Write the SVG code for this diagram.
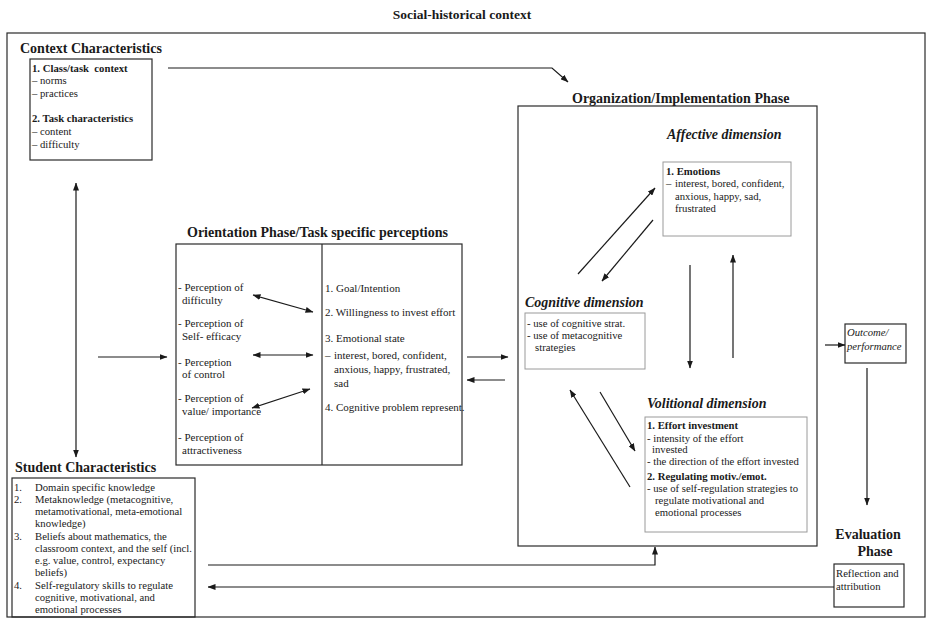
<svg xmlns="http://www.w3.org/2000/svg" width="927" height="618" viewBox="0 0 927 618">
<defs>
<marker id="arr" markerUnits="userSpaceOnUse" markerWidth="8" markerHeight="6" refX="7.5" refY="3" orient="auto-start-reverse">
<path d="M0,0 L8,3 L0,6 z" fill="#1a1a1a"/>
</marker>
</defs>
<style>
text{font-family:"Liberation Serif","Times New Roman",serif;fill:#1a1a1a}
.h{font-size:14px;font-weight:bold}
.hi{font-size:14px;font-weight:bold;font-style:italic}
.t{font-size:10.7px}
.b{font-size:10.7px;font-weight:bold}
.o{font-size:11px}
.box{fill:none;stroke:#2a2a2a;stroke-width:1.2}
.lbox{fill:none;stroke:#9a9a9a;stroke-width:1}
.c{fill:none;stroke:#1a1a1a;stroke-width:1.2}
</style>
<rect width="927" height="618" fill="#ffffff"/>

<g id="social-historical">
<text x="462" y="19" class="h" style="font-size:13.5px" text-anchor="middle">Social-historical context</text>
<rect x="7" y="33" width="918" height="584" class="box"/>
</g>

<g id="context">
<text x="20" y="53" class="h">Context Characteristics</text>
<rect x="30" y="59" width="122" height="101" class="box"/>
<text x="32" y="72" class="b">1. Class/task&#160; context</text>
<text x="32" y="84" class="t">–  norms</text>
<text x="32" y="97" class="t">–  practices</text>
<text x="32" y="122" class="b">2. Task characteristics</text>
<text x="32" y="135" class="t">–  content</text>
<text x="32" y="148" class="t">–  difficulty</text>
</g>

<g id="student">
<text x="15" y="472" class="h">Student Characteristics</text>
<rect x="12" y="478" width="183" height="139" class="box"/>
<text x="14" y="491" class="t">1.</text><text x="35" y="491" class="t">Domain specific knowledge</text>
<text x="14" y="503" class="t">2.</text><text x="35" y="503" class="t">Metaknowledge (metacognitive,</text>
<text x="35" y="515" class="t">metamotivational, meta-emotional</text>
<text x="35" y="527" class="t">knowledge)</text>
<text x="14" y="540" class="t">3.</text><text x="35" y="540" class="t">Beliefs about mathematics, the</text>
<text x="35" y="552" class="t">classroom context, and the self (incl.</text>
<text x="35" y="564" class="t">e.g. value, control, expectancy</text>
<text x="35" y="576" class="t">beliefs)</text>
<text x="14" y="589" class="t">4.</text><text x="35" y="589" class="t">Self-regulatory skills to regulate</text>
<text x="35" y="601" class="t">cognitive, motivational, and</text>
<text x="35" y="613" class="t">emotional processes</text>
</g>

<g id="orientation">
<text x="187" y="237" class="h">Orientation Phase/Task specific perceptions</text>
<rect x="176" y="244" width="286" height="221" class="box"/>
<line x1="322" y1="244" x2="322" y2="465" class="box"/>
<text x="178" y="291" class="o">- Perception of</text>
<text x="182" y="304" class="o">difficulty</text>
<text x="178" y="327" class="o">- Perception of</text>
<text x="182" y="340" class="o">Self- efficacy</text>
<text x="178" y="366" class="o">- Perception</text>
<text x="182" y="378" class="o">of control</text>
<text x="178" y="402" class="o">- Perception of</text>
<text x="182" y="415" class="o">value/ importance</text>
<text x="178" y="441" class="o">- Perception of</text>
<text x="182" y="454" class="o">attractiveness</text>
<text x="325" y="292" class="o">1. Goal/Intention</text>
<text x="325" y="316" class="o">2. Willingness to invest effort</text>
<text x="325" y="342" class="o">3. Emotional state</text>
<text x="325" y="359" class="o">–</text><text x="334" y="359" class="o">interest, bored, confident,</text>
<text x="334" y="373" class="o">anxious, happy, frustrated,</text>
<text x="334" y="387" class="o">sad</text>
<text x="325" y="411" class="o">4. Cognitive problem represent.</text>
</g>

<g id="organization">
<text x="572" y="103" class="h">Organization/Implementation Phase</text>
<rect x="518" y="106" width="299" height="440" class="box"/>
</g>

<g id="affective">
<text x="667" y="139" class="hi">Affective dimension</text>
<rect x="663" y="162" width="128" height="74" class="lbox"/>
<text x="666" y="175" class="b">1. Emotions</text>
<text x="666" y="187" class="t">–</text><text x="675" y="187" class="t">interest, bored, confident,</text>
<text x="675" y="200" class="t">anxious, happy, sad,</text>
<text x="675" y="212" class="t">frustrated</text>
</g>

<g id="cognitive">
<text x="525" y="307" class="hi">Cognitive dimension</text>
<rect x="525" y="313" width="120" height="56" class="lbox"/>
<text x="527" y="327" class="t">- use of cognitive strat.</text>
<text x="527" y="339" class="t">- use of metacognitive</text>
<text x="535" y="351" class="t">strategies</text>
</g>

<g id="volitional">
<text x="647" y="408" class="hi">Volitional dimension</text>
<rect x="645" y="417" width="162" height="115" class="lbox"/>
<text x="647" y="429" class="b">1. Effort investment</text>
<text x="647" y="442" class="t">- intensity of the effort</text>
<text x="652" y="453" class="t">invested</text>
<text x="647" y="465" class="t">- the direction of the effort invested</text>
<text x="647" y="480" class="b">2. Regulating motiv./emot.</text>
<text x="647" y="492" class="t">- use of self-regulation strategies to</text>
<text x="655" y="504" class="t">regulate motivational and</text>
<text x="655" y="516" class="t">emotional processes</text>
</g>

<g id="outcome">
<rect x="845" y="324" width="61" height="39" class="box"/>
<text x="847" y="336" class="t" font-style="italic">Outcome/</text>
<text x="847" y="350" class="t" font-style="italic">performance</text>
</g>

<g id="evaluation">
<text x="868" y="539" class="h" text-anchor="middle">Evaluation</text>
<text x="875" y="556" class="h" text-anchor="middle">Phase</text>
<rect x="834" y="564" width="70" height="43" class="box"/>
<text x="836" y="577" class="t">Reflection and</text>
<text x="836" y="590" class="t">attribution</text>
</g>

<g id="connectors">
<polyline points="168,68 552,68 568,82" class="c" marker-end="url(#arr)"/>
<line x1="76" y1="183" x2="76" y2="457" class="c" marker-start="url(#arr)" marker-end="url(#arr)"/>
<line x1="98" y1="357" x2="167" y2="357" class="c" marker-end="url(#arr)"/>
<line x1="253" y1="295" x2="313" y2="312" class="c" marker-start="url(#arr)" marker-end="url(#arr)"/>
<line x1="253" y1="355" x2="313" y2="355" class="c" marker-start="url(#arr)" marker-end="url(#arr)"/>
<line x1="252" y1="408" x2="310" y2="389" class="c" marker-start="url(#arr)" marker-end="url(#arr)"/>
<line x1="467" y1="357" x2="508" y2="357" class="c" marker-end="url(#arr)"/>
<line x1="505" y1="380" x2="467" y2="380" class="c" marker-end="url(#arr)"/>
<line x1="578" y1="274" x2="655" y2="188" class="c" marker-end="url(#arr)"/>
<line x1="653" y1="220" x2="602" y2="281" class="c" marker-end="url(#arr)"/>
<line x1="690" y1="265" x2="690" y2="368" class="c" marker-end="url(#arr)"/>
<line x1="733" y1="358" x2="733" y2="255" class="c" marker-end="url(#arr)"/>
<line x1="630" y1="487" x2="570" y2="390" class="c" marker-end="url(#arr)"/>
<line x1="600" y1="392" x2="635" y2="451" class="c" marker-end="url(#arr)"/>
<line x1="825" y1="345" x2="845" y2="345" class="c" marker-end="url(#arr)"/>
<line x1="867" y1="368" x2="867" y2="505" class="c" marker-end="url(#arr)"/>
<polyline points="208,565 655,565 655,547" class="c" marker-end="url(#arr)"/>
<line x1="834" y1="587" x2="208" y2="587" class="c" marker-end="url(#arr)"/>
</g>
</svg>
